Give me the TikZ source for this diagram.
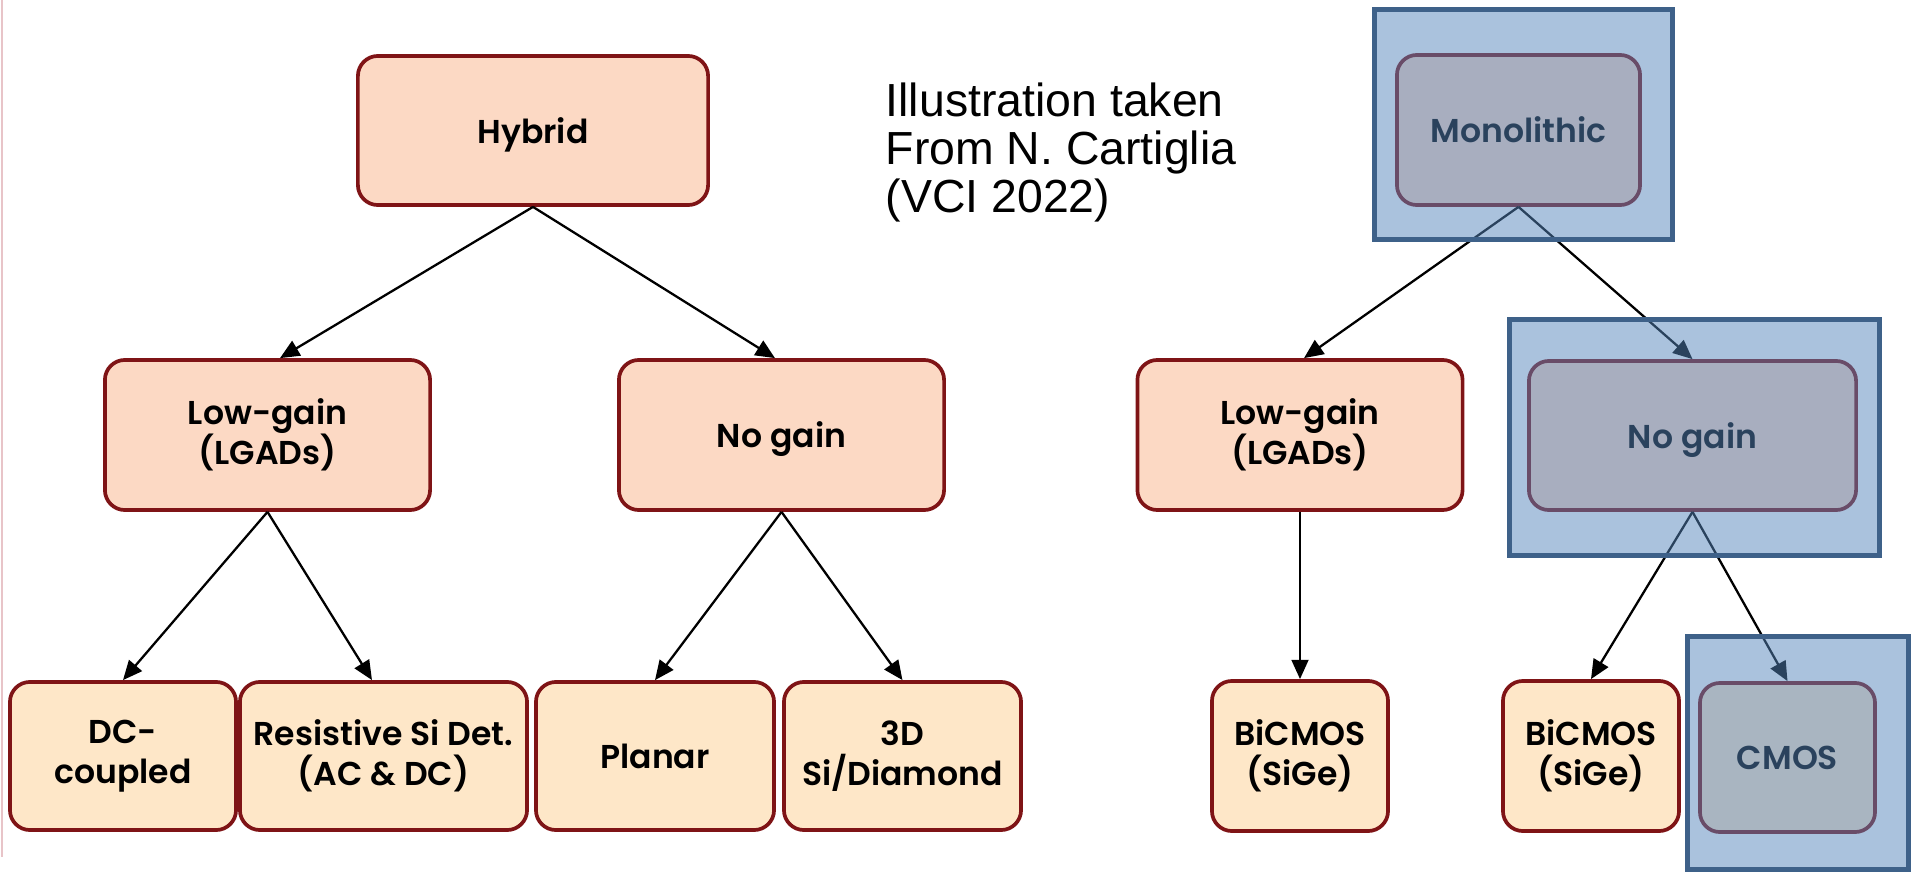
\documentclass[tikz,border=0pt]{standalone}
\usepackage{fontspec}
\setmainfont{Poppins}[UprightFont=* SemiBold]
\newfontfamily\arialfont{Liberation Sans}
\usetikzlibrary{arrows.meta}
\definecolor{peach}{HTML}{FCD9C4}
\definecolor{cream}{HTML}{FEE7C8}
\definecolor{brd}{HTML}{7F1416}
\definecolor{veil}{HTML}{5585BB}
\definecolor{veilbrd}{HTML}{3E6189}
\definecolor{pinkline}{HTML}{E8C4C8}
\begin{document}
\begin{tikzpicture}[x=0.01cm,y=-0.01cm,
  box/.style={draw=brd, line width=1.05pt, rounded corners=0.2cm, inner sep=0pt,
    align=center, font=\fontsize{9.4}{11.4}\selectfont, text=black},
  upper/.style={box, fill=peach, minimum width=3.25cm, minimum height=1.5cm},
  lower/.style={box, fill=cream, minimum height=1.48cm},
  oneline/.style={text depth=0pt},
  arr/.style={-{Triangle[length=5.5pt,width=4.8pt]}, line width=0.65pt, black},
  blueveil/.style={draw=veilbrd, line width=1.5pt, fill=veil, fill opacity=0.5,
    draw opacity=1, inner sep=0pt}]
\useasboundingbox (0,0) rectangle (1917,876);
\draw[pinkline, line width=0.5pt] (2,0) -- (2,857);

% nodes
\node[upper, oneline, minimum width=3.5cm, minimum height=1.49cm] (hyb) at (533,130.5) {Hybrid};
\node[upper] (lgL) at (267.5,435) {Low-gain\\(LGADs)};
\node[upper, oneline] (ngL) at (781.5,435) {No gain};
\node[lower, minimum width=2.26cm] (dc) at (123,756) {DC-\\coupled};
\node[lower, minimum width=2.87cm] (res) at (383.5,756) {Resistive Si Det.\\(AC \& DC)};
\node[lower, oneline, minimum width=2.38cm] (pla) at (655,756) {Planar};
\node[lower, minimum width=2.37cm] (tdd) at (902.5,756) {3D\\Si/Diamond};

\node[upper, oneline, minimum width=2.43cm] (mono) at (1518.5,130) {Monolithic};
\node[upper] (lgR) at (1300,435) {Low-gain\\(LGADs)};
\node[upper, oneline, minimum width=3.27cm, minimum height=1.49cm] (ngR) at (1692.5,435.5) {No gain};
\node[lower, minimum width=1.76cm, minimum height=1.5cm] (bic1) at (1300,756) {BiCMOS\\(SiGe)};
\node[lower, minimum width=1.76cm, minimum height=1.5cm] (bic2) at (1591,756) {BiCMOS\\(SiGe)};
\node[lower, oneline, minimum width=1.75cm, minimum height=1.49cm] (cmos) at (1787.5,757.5) {CMOS};

% connectors
\draw[arr] (hyb.south) -- ([xshift=0.125cm]lgL.north);
\draw[arr] (hyb.south) -- ([xshift=-0.065cm]ngL.north);
\draw[arr] (lgL.south) -- (dc.north);
\draw[arr] (lgL.south) -- ([xshift=-0.115cm]res.north);
\draw[arr] (ngL.south) -- (pla.north);
\draw[arr] (ngL.south) -- (tdd.north);
\draw[arr] (mono.south) -- ([xshift=0.04cm]lgR.north);
\draw[arr] (mono.south) -- (ngR.north);
\draw[arr] (lgR.south) -- (bic1.north);
\draw[arr] (ngR.south) -- (bic2.north);
\draw[arr] (ngR.south) -- (cmos.north);

% translucent blue frames
\node[blueveil, minimum width=2.98cm, minimum height=2.30cm] (monoveil) at (1523.5,124.5) {};
\node[blueveil, minimum width=3.70cm, minimum height=2.36cm] (ngveil) at (1694.5,437.5) {};
\node[blueveil, minimum width=2.21cm, minimum height=2.33cm] (cmosveil) at (1798,753) {};

% note
\node[anchor=north west, inner sep=0pt, align=left,
  font=\arialfont\fontsize{13.2}{13.7}\selectfont] (note) at (885,82)
  {Illustration taken\\From N. Cartiglia\\(VCI 2022)};
\end{tikzpicture}
\end{document}
